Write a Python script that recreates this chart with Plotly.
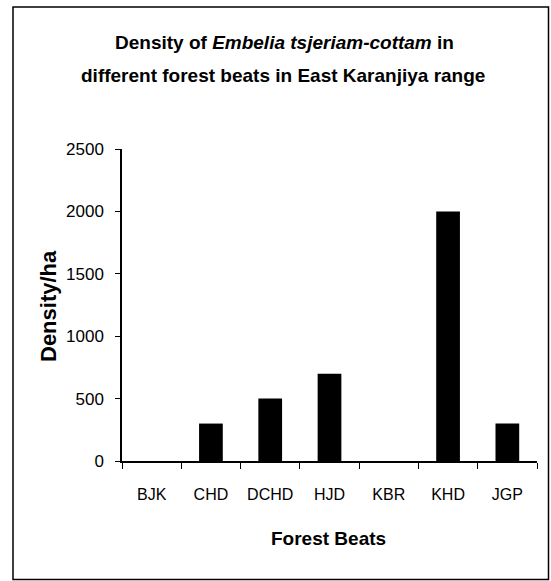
import plotly.graph_objects as go

categories = ["BJK", "CHD", "DCHD", "HJD", "KBR", "KHD", "JGP"]
density = [0, 300, 500, 700, 0, 2000, 300]
y_ticks = [0, 500, 1000, 1500, 2000, 2500]

W, H = 551, 581
L, R, T, B = 122, 14, 149, 120
pw, ph = W - L - R, H - T - B

def px(x):
    return (x - L) / pw

def py(y):
    return (H - B - y) / ph

FONT = "Liberation Sans, Arial, sans-serif"

fig = go.Figure(go.Bar(x=categories, y=density, marker=dict(color="black", line=dict(width=0))))

fig.update_layout(
    width=W, height=H,
    margin=dict(l=L, r=R, t=T, b=B),
    paper_bgcolor="white", plot_bgcolor="white",
    bargap=0.6, showlegend=False,
    font=dict(family=FONT, color="black"),
)
fig.update_xaxes(
    type="category", showgrid=False, showline=True, linecolor="black", linewidth=1.5,
    ticks="outside", tickson="boundaries", ticklen=6, tickwidth=1, tickcolor="black",
    tickfont=dict(size=16, family=FONT), ticklabelstandoff=18,
)
fig.update_yaxes(
    range=[0, 2500], tickvals=y_ticks, showgrid=False, showline=True, linecolor="black", linewidth=1.5,
    ticks="outside", ticklen=5, tickwidth=1, tickcolor="black", zeroline=False,
    tickfont=dict(size=17, family=FONT), ticklabelstandoff=8,
)

anns = [
    dict(text="<b>Density of <i>Embelia tsjeriam-cottam</i> in</b>", x=px(284), y=py(42), size=19),
    dict(text="<b>different forest beats in East Karanjiya range</b>", x=px(283), y=py(76), size=19),
    dict(text="<b>Forest Beats</b>", x=px(328), y=py(538), size=19),
]
for a in anns:
    fig.add_annotation(text=a["text"], x=a["x"], y=a["y"], xref="paper", yref="paper",
                       showarrow=False, xanchor="center", yanchor="middle",
                       font=dict(size=a["size"], family=FONT, color="black"))
fig.add_annotation(text="<b>Density/ha</b>", x=px(48), y=py(306), xref="paper", yref="paper",
                   showarrow=False, xanchor="center", yanchor="middle", textangle=-90,
                   font=dict(size=22, family=FONT, color="black"))

fig.add_shape(type="rect", xref="paper", yref="paper",
              x0=px(13), x1=px(548.5), y0=py(579.5), y1=py(7),
              line=dict(color="black", width=1.5), fillcolor="rgba(0,0,0,0)", layer="below")

fig.write_html("out.html", config={"displayModeBar": False},
               post_script="document.body.style.margin='0';document.body.style.overflow='hidden';")
